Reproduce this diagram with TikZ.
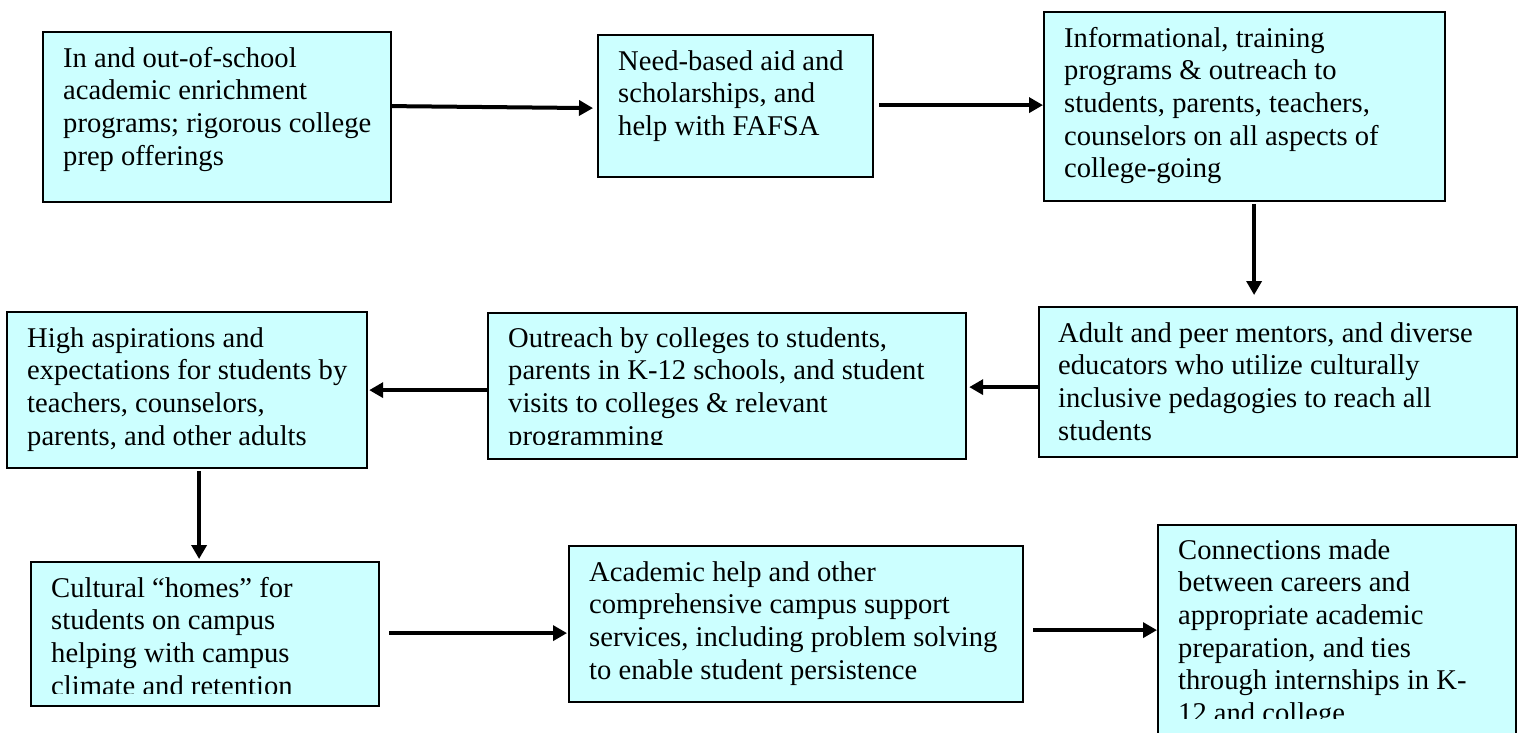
\documentclass[tikz,border=0pt]{standalone}
\usepackage{fontspec}
\setmainfont{Liberation Serif}
\usetikzlibrary{arrows.meta,calc}
\definecolor{boxcyan}{RGB}{204,255,255}
\tikzset{
  box/.style={draw=black, line width=2.2pt, fill=boxcyan, anchor=north west, inner sep=0pt},
  txt/.style={anchor=base west, inner sep=0pt, font=\fontsize{28.6}{32.7}\selectfont},
  link/.style={-{Triangle[length=14pt,width=15pt]}, line width=4pt}
}
\newcommand{\boxlines}[1]{\parbox[t]{480pt}{\raggedright #1}}
\begin{document}
\begin{tikzpicture}[x=1pt,y=-1pt]
    \useasboundingbox (0,0) rectangle (1525,732);
    % boxes: number/left/top/width/height
    \foreach \n/\l/\t/\w/\h in {1/42/31/348/170, 2/597/34/275/142, 3/1043/11/401/189,
      4/1038/306/478/150, 5/487/312/478/146, 6/6/311/360/156,
      7/30/561/348/144, 8/568/545/454/156, 9/1157/524/358/210}
      \node[box, minimum width=\w pt, minimum height=\h pt] (b\n) at (\l,\t) {};

    \node[txt] (t1) at ($(b1.north west)+(21,36)$) {\boxlines{In and out-of-school\\academic enrichment\\programs; rigorous college\\prep offerings}};
    \node[txt] (t2) at ($(b2.north west)+(21,36)$) {\boxlines{Need-based aid and\\scholarships, and\\help with FAFSA}};
    \node[txt] (t3) at ($(b3.north west)+(21,36)$) {\boxlines{Informational, training\\programs \& outreach to\\students, parents, teachers,\\counselors on all aspects of\\college-going}};
    \node[txt] (t4) at ($(b4.north west)+(20,36)$) {\boxlines{Adult and peer mentors, and diverse\\educators who utilize culturally\\inclusive pedagogies to reach all\\students}};
    \node[txt] (t6) at ($(b6.north west)+(21,36)$) {\boxlines{High aspirations and\\expectations for students by\\teachers, counselors,\\parents, and other adults}};
    \node[txt] (t8) at ($(b8.north west)+(21,36)$) {\boxlines{Academic help and other\\comprehensive campus support\\services, including problem solving\\to enable student persistence}};
    % last line cut off by the box
    \begin{scope}
      \clip ($(b5.north west)+(2,2)$) rectangle ($(b5.north east)+(-2,132)$);
      \node[txt] (t5) at ($(b5.north west)+(21,35)$) {\boxlines{Outreach by colleges to students,\\parents in K-12 schools, and student\\visits to colleges \& relevant\\programming}};
    \end{scope}
    \begin{scope}
      \clip ($(b7.north west)+(2,2)$) rectangle ($(b7.north east)+(-2,132)$);
      \node[txt] (t7) at ($(b7.north west)+(21,36)$) {\boxlines{Cultural “homes” for\\students on campus\\helping with campus\\climate and retention}};
    \end{scope}
    \begin{scope}
      \clip ($(b9.north west)+(2,2)$) rectangle ($(b9.north east)+(-2,194)$);
      \node[txt] (t9) at ($(b9.north west)+(21,35)$) {\boxlines{Connections made\\between careers and\\appropriate academic\\preparation, and ties\\through internships in K-\\12 and college}};
    \end{scope}

    \draw[link] ($(b1.east)+(0,-11)$) -- ($(b2.west)+(-4,2)$);
    \draw[link] ($(b2.east)+(5,-1)$) -- ($(b3.west)+(0,-1.5)$);
    \draw[link] ($(b3.south)+(9.5,2)$) -- ($(b4.north)+(-24,-11)$);
    \draw[link] ($(b4.west)+(0,5)$) -- ($(b5.east)+(2,1)$);
    \draw[link] ($(b5.west)+(0,4)$) -- ($(b6.east)+(1,0)$);
    \draw[link] ($(b6.south)+(12,2)$) -- ($(b7.north)+(-6,-2)$);
    \draw[link] ($(b7.east)+(9,-1)$) -- ($(b8.west)+(-1,9)$);
    \draw[link] ($(b8.east)+(9,6)$) -- (b9.west);
\end{tikzpicture}
\end{document}
